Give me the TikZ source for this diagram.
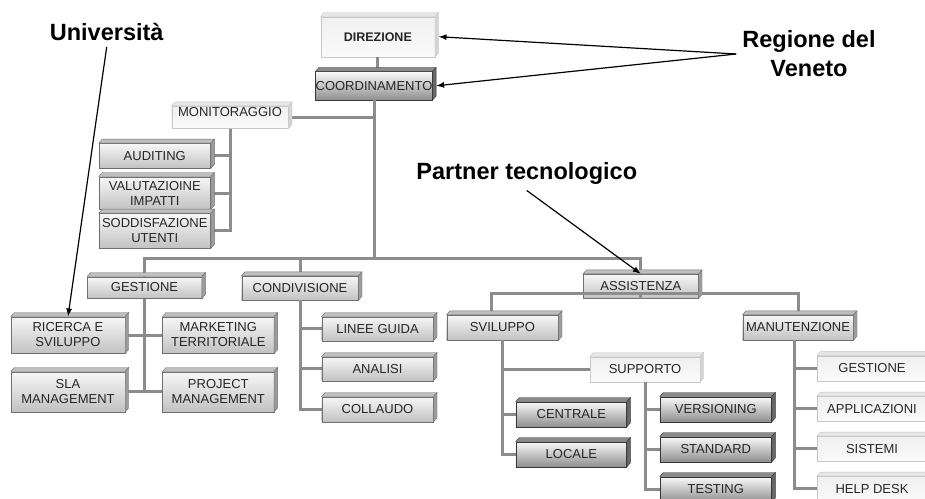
\documentclass[tikz,border=0pt]{standalone}
\usepackage{fontspec}
\setmainfont{Liberation Sans}
\usepackage{tikz}
\usetikzlibrary{arrows.meta}
\definecolor{lightline}{HTML}{C8C8C8}
\definecolor{lighttop}{HTML}{E6E6E6}
\definecolor{lightside}{HTML}{D4D4D4}
\definecolor{midline}{HTML}{707070}
\definecolor{midtop}{HTML}{BEBEBE}
\definecolor{midside}{HTML}{9C9C9C}
\definecolor{darkline}{HTML}{383838}
\definecolor{darktop}{HTML}{8A8A8A}
\definecolor{darkside}{HTML}{686868}
\definecolor{connline}{HTML}{8C8C8C}
\tikzset{
  box/.style={inner sep=0pt, align=center, text=black!85,
    font=\fontsize{13}{15}\selectfont},
  % y runs downwards here, so the shading colours are given upside down
  lightbox/.style={box, draw=lightline, bottom color=black!2, top color=black!6},
  midbox/.style={box, draw=midline, bottom color=black!24, top color=black!3},
  darkbox/.style={box, draw=darkline, bottom color=black!44, top color=black!2},
  conn/.style={draw=connline, line width=3pt},
  note/.style={font=\fontsize{23.5}{29}\selectfont\bfseries, align=center, inner sep=6pt},
  pointer/.style={-{Latex[length=8pt,width=6pt]}, line width=1.2pt}
}
\newcommand{\boxfaces}[4]{
  \filldraw[fill=#2, draw=#4] (#1.north west) -- ([shift={(3.5,-4)}]#1.north west)
    -- ([shift={(3.5,-4)}]#1.north east) -- (#1.north east) -- cycle;
  \filldraw[fill=#3, draw=#4] (#1.north east) -- ([shift={(3.5,-4)}]#1.north east)
    -- ([shift={(3.5,-4)}]#1.south east) -- (#1.south east) -- cycle;
}

\begin{document}
\begin{tikzpicture}[x=1pt, y=-1pt]
  \useasboundingbox (0,0) rectangle (925,498);

  \node[lightbox, minimum width=114pt, minimum height=40pt,
    font=\fontsize{12.5}{15}\selectfont\bfseries] (direzione) at (377.8,36.7) {DIREZIONE};
  \node[darkbox, minimum width=116.6pt, minimum height=28.3pt] (coordinamento) at (374,85.8) {COORDINAMENTO};
  \node[lightbox, minimum width=116.6pt, text height=10.2pt, text depth=12.1pt] (monitoraggio) at (230,117.2) {MONITORAGGIO};
  \node[midbox, minimum width=111.7pt, minimum height=25pt] (auditing) at (154.8,155.8) {AUDITING};
  \node[midbox, minimum width=111.7pt, minimum height=32.6pt] (valutazione) at (154.8,193) {VALUTAZIOINE\\IMPATTI};
  \node[midbox, minimum width=111.7pt, minimum height=35pt] (soddisfazione) at (154.8,230.8) {SODDISFAZIONE\\UTENTI};

  \node[midbox, minimum width=114.4pt, minimum height=21.6pt] (gestione) at (144.5,287.5) {GESTIONE};
  \node[midbox, minimum width=116.6pt, minimum height=24pt] (condivisione) at (300,288) {CONDIVISIONE};
  \node[midbox, minimum width=115pt, minimum height=24.3pt] (assistenza) at (640.8,286.2) {ASSISTENZA};

  \node[midbox, minimum width=114pt, minimum height=36.6pt] (ricerca) at (68,335) {RICERCA E\\SVILUPPO};
  \node[midbox, minimum width=111.3pt, minimum height=36.6pt] (marketing) at (218.3,335) {MARKETING\\TERRITORIALE};
  \node[midbox, minimum width=114pt, minimum height=40pt] (sla) at (68,391.7) {SLA\\MANAGEMENT};
  \node[midbox, minimum width=111.3pt, minimum height=40pt] (project) at (218.3,391.7) {PROJECT\\MANAGEMENT};

  \node[midbox, minimum width=111.6pt, minimum height=24pt] (linee) at (377.5,328.7) {LINEE GUIDA};
  \node[midbox, minimum width=111.6pt, minimum height=24pt] (analisi) at (377.5,368.7) {ANALISI};
  \node[midbox, minimum width=111.6pt, minimum height=25pt] (collaudo) at (377.5,409.2) {COLLAUDO};

  \node[midbox, minimum width=111.6pt, minimum height=25pt] (sviluppo) at (502.5,327.5) {SVILUPPO};
  \node[midbox, minimum width=110.6pt, minimum height=25pt] (manutenzione) at (798,327.5) {MANUTENZIONE};
  \node[lightbox, minimum width=110pt, minimum height=25pt] (supporto) at (645,369.2) {SUPPORTO};
  \node[darkbox, minimum width=110.7pt, minimum height=25pt] (centrale) at (571.3,414.2) {CENTRALE};
  \node[darkbox, minimum width=110.7pt, minimum height=25pt] (locale) at (571.3,454.2) {LOCALE};
  \node[darkbox, minimum width=111.7pt, minimum height=25pt] (versioning) at (715.8,409.2) {VERSIONING};
  \node[darkbox, minimum width=111.7pt, minimum height=25pt] (standard) at (715.8,449.2) {STANDARD};
  \node[darkbox, minimum width=111.7pt, minimum height=25pt] (testing) at (715.8,489.2) {TESTING};
  \node[lightbox, minimum width=110pt, minimum height=25pt] (mgestione) at (872,368.3) {GESTIONE};
  \node[lightbox, minimum width=110pt, minimum height=25pt] (applicazioni) at (872,408.8) {APPLICAZIONI};
  \node[lightbox, minimum width=110pt, minimum height=25pt] (sistemi) at (872,448.8) {SISTEMI};
  \node[lightbox, minimum width=110pt, minimum height=25pt] (helpdesk) at (872,488.8) {HELP DESK};

  \coordinate (bus) at (coordinamento.south |- 0,258);
  \draw[conn] (direzione.south) -- (direzione.south |- coordinamento.north);
  \draw[conn] (coordinamento.south) -- (bus);
  \draw[conn] (coordinamento.south) |- (monitoraggio.east);
  \foreach \n in {auditing,valutazione,soddisfazione}
    \draw[conn] (monitoraggio.south) |- (\n.east);
  \draw[conn] (gestione.north) |- (bus) -| (assistenza.north);
  \draw[conn] (bus -| condivisione.north) -- (condivisione.north);
  \foreach \n in {ricerca,sla}
    \draw[conn] (gestione.south) |- (\n.east);
  \foreach \n in {marketing,project}
    \draw[conn] (gestione.south) |- (\n.west);
  \foreach \n in {linee,analisi,collaudo}
    \draw[conn] (condivisione.south) |- (\n.west);
  \draw[conn] ([xshift=-11pt]sviluppo.north) |- ([yshift=5pt]assistenza.south) -| (manutenzione.north);
  \draw[conn] (assistenza.south) -- ([yshift=5pt]assistenza.south);
  \foreach \n in {supporto,centrale,locale}
    \draw[conn] (sviluppo.south) |- (\n.west);
  \foreach \n in {versioning,standard,testing}
    \draw[conn] (supporto.south) |- (\n.west);
  \foreach \n in {mgestione,applicazioni,sistemi,helpdesk}
    \draw[conn] ([xshift=-4pt]manutenzione.south) |- (\n.west);

  \foreach \n in {direzione,monitoraggio,supporto,mgestione,applicazioni,sistemi,helpdesk}
    {\boxfaces{\n}{lighttop}{lightside}{lightline}}
  \foreach \n in {auditing,valutazione,soddisfazione,gestione,condivisione,assistenza,
      ricerca,marketing,sla,project,linee,analisi,collaudo,sviluppo,manutenzione}
    {\boxfaces{\n}{midtop}{midside}{midline}}
  \foreach \n in {coordinamento,centrale,locale,versioning,standard,testing}
    {\boxfaces{\n}{darktop}{darkside}{darkline}}

  \node[note] (universita) at (106.7,32) {Università};
  \node[note] (partner) at (526.8,173.3) {Partner tecnologico};
  \node[note] (regione) at (809,54) {Regione del\\Veneto};
  \draw[pointer] (universita.south) -- (ricerca.north);
  \draw[pointer] (partner.south) -- (assistenza.north);
  \draw[pointer] (regione.west) -- ([xshift=3.5pt]direzione.east);
  \draw[pointer] (regione.west) -- ([xshift=3.5pt]coordinamento.east);
\end{tikzpicture}
\end{document}
